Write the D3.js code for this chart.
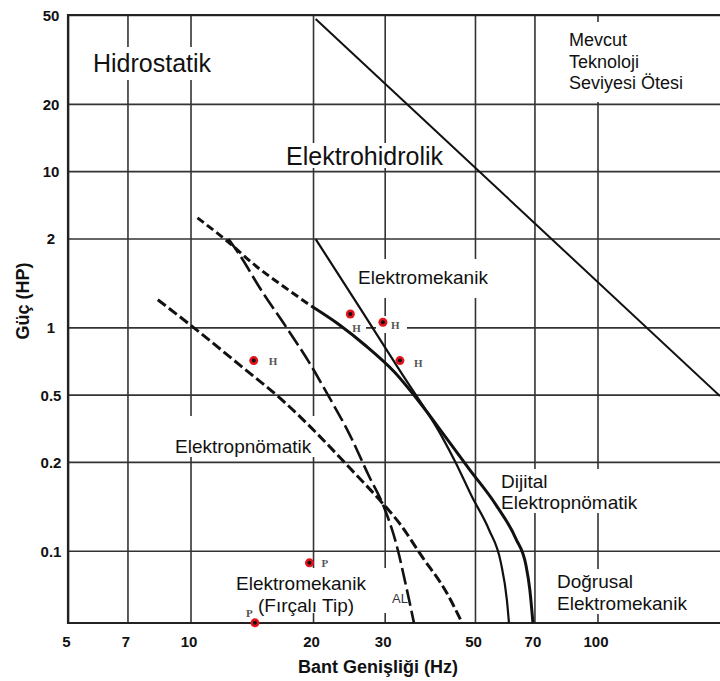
<!DOCTYPE html>
<html><head><meta charset="utf-8">
<script src="https://cdn.jsdelivr.net/npm/d3@7"></script>
<style>
html,body{margin:0;padding:0;background:#fff;}
svg{display:block;}
text{font-family:"Liberation Sans",Arial,Helvetica,sans-serif;}
</style></head><body>
<svg id="chart" width="720" height="681"></svg>
<script>
// ---------- data ----------
const xTicks = [5, 7, 10, 20, 30, 50, 70, 100];
const yTicks = [50, 20, 10, 2, 1, 0.5, 0.2, 0.1];          // labels as printed
const yGridSteps = [50, 20, 10, 5, 2, 1, 0.5, 0.2];        // underlying 1-2-5 log grid of the scan
const xSpan = [5, 200];
const ySpan = [0.095, 50];

const mevcutLimit = [[20.3, 48], [200, 0.49]];
const elektromekanikCurve = [[20.3,1.99],[26.0,1.17],[32.6,0.645],[41.5,0.281],[44.9,0.198],[49.2,0.152],[54.1,0.118],[57.9,0.091],[59.9,0.068],[60.6,0.057]];
const dijitalDashed = [[10.4,3.27],[12.3,1.96],[14.5,1.61],[17.0,1.37],[19.8,1.18]];
const dijitalSolid = [[19.8,1.18],[23.2,1.02],[27.0,0.825],[31.7,0.631],[36.5,0.452],[42.0,0.288],[48.4,0.189],[56.3,0.143],[63.0,0.110],[66.7,0.0895],[68.2,0.0737],[69.4,0.057]];
const alCurve = [[12.4,1.99],[13.2,1.76],[14.9,1.34],[17.2,1.00],[19.6,0.693],[21.9,0.484],[24.5,0.296],[27.5,0.178],[29.6,0.145],[32.0,0.106],[33.9,0.0754],[35.4,0.057]];
const elektropnomatikCurve = [[8.31,1.24],[10.07,1.01],[13.2,0.679],[16.8,0.464],[20.4,0.296],[24.5,0.192],[29.1,0.149],[32.6,0.124],[37.1,0.0953],[42.5,0.0725],[46.5,0.057]];
const hPoints = [[14.3,0.71],[24.7,1.11],[29.7,1.04],[32.7,0.71]];
const pPoints = [[19.6,0.091],[14.4,0.057]];

const xTitle = "Bant Genişliği (Hz)";
const yTitle = "Güç (HP)";
const regionNames = ["Hidrostatik","Elektrohidrolik",["Mevcut","Teknoloji","Seviyesi Ötesi"],"Elektromekanik","Elektropnömatik",["Elektromekanik","(Fırçalı Tip)"],["Dijital","Elektropnömatik"],["Doğrusal","Elektromekanik"]];

// ---------- scales ----------
const L = 68, T = 15, R = 720, Bt = 623;
const svg = d3.select("#chart");
const x = d3.scaleLog().domain(xSpan).range([L, R]);
const yBase = d3.scaleLog().domain(ySpan).range([Bt, T]);
const y = d3.scaleLog().domain(yTicks).range(yGridSteps.map(yBase));
const B = yBase(ySpan[0]);

const gridColor = "#333";
const ink = "#111";

// ---------- grid + axes ----------
const gx = svg.append("g").attr("transform", `translate(0,${B})`)
  .call(d3.axisBottom(x).tickValues(xTicks).tickSize(-(B - T)).tickFormat(d => String(d)));
gx.select(".domain").remove();
gx.selectAll(".tick line").attr("stroke", gridColor).attr("stroke-width", 1.6);
gx.selectAll(".tick text").attr("y", 24).attr("dy", 0).attr("x", -2)
  .attr("fill", ink).style("font-size", "15px").style("font-weight", "bold");

const gy = svg.append("g").attr("transform", `translate(${L},0)`)
  .call(d3.axisLeft(y).tickValues(yTicks).tickSize(-(R - L)).tickFormat(d => String(d)));
gy.select(".domain").remove();
gy.selectAll(".tick line").attr("stroke", gridColor).attr("stroke-width", 1.6);
gy.selectAll(".tick text").attr("x", -17).attr("dy", "0.36em").attr("text-anchor", "middle")
  .attr("fill", ink).style("font-size", "15px").style("font-weight", "bold");

// frame
const frame = svg.append("g").attr("stroke", "#222").attr("stroke-width", 2.2).attr("fill", "none");
frame.append("line").attr("x1", L).attr("x2", L).attr("y1", T - 1).attr("y2", B + 1);
frame.append("line").attr("x1", L).attr("x2", R).attr("y1", T).attr("y2", T);
frame.append("line").attr("x1", L).attr("x2", R).attr("y1", B).attr("y2", B);

// white label backgrounds (hide grid behind text, as in scan)
const boxes = [
  [73, 47, 177, 33], [283, 143, 162, 25], [562, 22, 153, 80], [355, 259, 145, 39],
  [343, 318, 23, 17], [376, 316, 31, 17], [172, 416, 144, 41],
  [233, 568, 159, 26], [255, 594, 140, 19], [495, 469, 147, 44], [552, 569, 138, 45]
];
svg.append("g").selectAll("rect").data(boxes).join("rect")
  .attr("x", d => d[0]).attr("y", d => d[1]).attr("width", d => d[2]).attr("height", d => d[3])
  .attr("fill", "#fff");

// ---------- curves ----------
const line = d3.line().x(d => x(d[0])).y(d => y(d[1])).curve(d3.curveMonotoneX);
const straight = d3.line().x(d => x(d[0])).y(d => y(d[1]));
const curves = svg.append("g").attr("fill", "none").attr("stroke", "#111").attr("stroke-linecap", "butt");

curves.append("path").attr("d", straight(mevcutLimit)).attr("stroke-width", 2);
curves.append("path").attr("d", line(elektromekanikCurve)).attr("stroke-width", 2.2);
curves.append("path").attr("d", line(dijitalDashed)).attr("stroke-width", 3).attr("stroke-dasharray", "8,4");
curves.append("path").attr("d", line(dijitalSolid)).attr("stroke-width", 3);
curves.append("path").attr("d", line(alCurve)).attr("stroke-width", 2.6).attr("stroke-dasharray", "17,5");
curves.append("path").attr("d", line(elektropnomatikCurve)).attr("stroke-width", 3).attr("stroke-dasharray", "10,4");

// ---------- points ----------
function dots(data, lab, dxs, dys) {
  const g = svg.append("g");
  g.selectAll("circle.o").data(data).join("circle").attr("class", "o")
    .attr("cx", d => x(d[0])).attr("cy", d => y(d[1])).attr("r", 4.5).attr("fill", "#e3141b");
  g.selectAll("circle.i").data(data).join("circle").attr("class", "i")
    .attr("cx", d => x(d[0])).attr("cy", d => y(d[1])).attr("r", 2).attr("fill", "#111");
  g.selectAll("text").data(data).join("text")
    .attr("x", (d, i) => x(d[0]) + dxs[i]).attr("y", (d, i) => y(d[1]) + dys[i])
    .attr("fill", "#555").style("font-size", "11px").style("font-weight", "bold")
    .style("font-family", "'Liberation Serif',serif").text(lab);
}
dots(hPoints, "H", [15, 2, 8, 14], [4, 18, 7, 6]);
dots(pPoints, "P", [12, -9], [4, -6]);

// ---------- texts ----------
function label(lines, px, py, size, lh) {
  const t = svg.append("text").attr("fill", ink).style("font-size", size + "px");
  [].concat(lines).forEach((s, i) => t.append("tspan").attr("x", px[i] ?? px[0]).attr("y", py + i * lh).text(s));
}
label(regionNames[0], [93], 72, 25, 0);
label(regionNames[1], [286], 165, 25, 0);
label(regionNames[2], [569], 46, 18, 21.5);
label(regionNames[3], [358], 284, 19, 0);
label(regionNames[4], [175], 453, 19, 0);
label(regionNames[5], [236, 258], 590, 19, 22);
label(regionNames[6], [501], 488, 19, 20.5);
label(regionNames[7], [557], 588, 19, 21.5);

svg.append("text").attr("x", 392).attr("y", 603).attr("fill", "#333")
  .style("font-size", "13px").text("AL");

svg.append("text").attr("x", 378).attr("y", 673).attr("text-anchor", "middle")
  .attr("fill", ink).style("font-size", "18px").style("font-weight", "bold").text(xTitle);
svg.append("text").attr("transform", "translate(29,301) rotate(-90)").attr("text-anchor", "middle")
  .attr("fill", ink).style("font-size", "18px").style("font-weight", "bold").text(yTitle);
</script>
</body></html>
